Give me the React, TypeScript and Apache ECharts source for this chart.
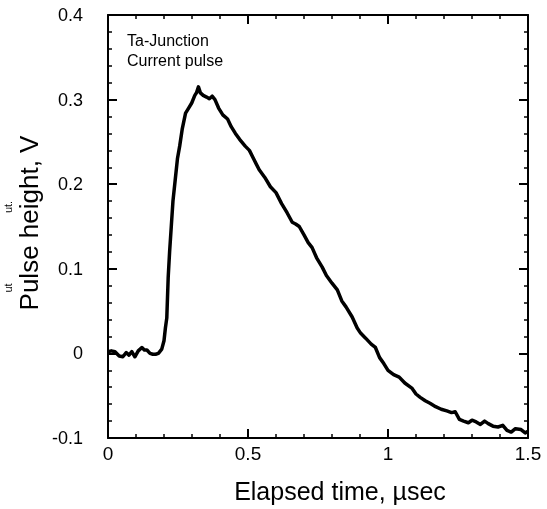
import React, { useEffect, useRef } from "react";
import * as echarts from "echarts";

const timeUs: number[] = [
  0.0, 0.012, 0.025, 0.04, 0.053, 0.065, 0.075, 0.085, 0.096, 0.108, 0.121, 0.13, 0.139, 0.15, 0.16, 0.17, 0.18, 0.192,
  0.2, 0.205, 0.21, 0.215, 0.22, 0.226, 0.232, 0.24, 0.248, 0.256, 0.265, 0.277, 0.288, 0.299, 0.31, 0.316, 0.323,
  0.33, 0.34, 0.352, 0.362, 0.372, 0.382, 0.395, 0.41, 0.427, 0.44, 0.455, 0.47, 0.49, 0.505, 0.52, 0.54, 0.56, 0.58,
  0.6, 0.62, 0.64, 0.658, 0.67, 0.683, 0.7, 0.715, 0.729, 0.745, 0.765, 0.78, 0.8, 0.819, 0.835, 0.85, 0.872, 0.89,
  0.902, 0.92, 0.94, 0.955, 0.97, 0.985, 1.0, 1.02, 1.04, 1.06, 1.085, 1.1, 1.115, 1.133, 1.15, 1.17, 1.19, 1.21,
  1.227, 1.24, 1.255, 1.27, 1.287, 1.3, 1.315, 1.33, 1.345, 1.358, 1.375, 1.393, 1.41, 1.425, 1.44, 1.455, 1.475,
  1.49, 1.5,
];

const pulseV: number[] = [
  0.002, 0.003, 0.002, -0.003, -0.004, 0.001, -0.002, 0.002, -0.004, 0.003, 0.007, 0.004, 0.004, 0.0, -0.001, -0.001,
  0.0, 0.005, 0.015, 0.03, 0.042, 0.09, 0.12, 0.15, 0.18, 0.205, 0.23, 0.245, 0.265, 0.284, 0.29, 0.296, 0.305, 0.308,
  0.315, 0.308, 0.305, 0.303, 0.301, 0.304, 0.3, 0.29, 0.282, 0.277, 0.268, 0.26, 0.253, 0.245, 0.24, 0.23, 0.217,
  0.208, 0.197, 0.19, 0.177, 0.166, 0.155, 0.153, 0.15, 0.14, 0.131, 0.125, 0.113, 0.102, 0.092, 0.083, 0.075, 0.062,
  0.055, 0.043, 0.03, 0.024, 0.018, 0.011, 0.007, -0.005, -0.012, -0.02, -0.025, -0.028, -0.035, -0.041, -0.048,
  -0.052, -0.056, -0.059, -0.063, -0.066, -0.068, -0.07, -0.069, -0.078, -0.08, -0.082, -0.079, -0.081, -0.084, -0.08,
  -0.083, -0.086, -0.087, -0.085, -0.091, -0.093, -0.089, -0.09, -0.094, -0.092,
];

const xTitle = "Elapsed time, \u00b5sec";
const yTitle = "Pulse height, V";
const noteLines = ["Ta-Junction", "Current pulse"];

const FONT = "'Liberation Sans', Arial, Helvetica, sans-serif";

function axisBase(showLabel: boolean, fontSize: number, margin: number) {
  return {
    type: "value",
    axisLine: { show: true, onZero: false, lineStyle: { color: "#000", width: 2 } },
    axisTick: { show: true, inside: true, length: 9, lineStyle: { color: "#000", width: 2 } },
    minorTick: { show: true, splitNumber: 5, length: 4, lineStyle: { color: "#000", width: 1.5 } },
    splitLine: { show: false },
    minorSplitLine: { show: false },
    axisLabel: { show: showLabel, color: "#000", fontSize, fontFamily: FONT, margin },
  };
}

export default function App() {
  const ref = useRef<HTMLDivElement>(null);
  useEffect(() => {
    if (!ref.current) return;
    const chart = echarts.init(ref.current, undefined, { renderer: "svg" });
    chart.setOption({
      animation: false,
      grid: { left: 108, right: 19, top: 15, bottom: 71, containLabel: false },
      xAxis: [
        { ...axisBase(true, 19, 6), position: "bottom", min: 0, max: 1.5, interval: 0.5 },
        { ...axisBase(false, 19, 6), position: "top", min: 0, max: 1.5, interval: 0.5 },
      ],
      yAxis: [
        { ...axisBase(true, 18, 25), position: "left", min: -0.1, max: 0.4, interval: 0.1 },
        { ...axisBase(false, 18, 25), position: "right", min: -0.1, max: 0.4, interval: 0.1 },
      ],
      series: [
        {
          type: "line",
          xAxisIndex: 0,
          yAxisIndex: 0,
          data: timeUs.map((t, i) => [t, pulseV[i]]),
          showSymbol: false,
          symbol: "none",
          lineStyle: { color: "#000", width: 3.5, join: "round" },
        },
      ],
      graphic: [
        { type: "text", x: 127, y: 40, style: { text: noteLines[0], fontSize: 16, fontFamily: FONT, fill: "#000", align: "left", verticalAlign: "middle" } },
        { type: "text", x: 127, y: 60, style: { text: noteLines[1], fontSize: 16, fontFamily: FONT, fill: "#000", align: "left", verticalAlign: "middle" } },
        { type: "text", x: 340, y: 491, style: { text: xTitle, fontSize: 25, fontFamily: FONT, fill: "#000", align: "center", verticalAlign: "middle" } },
        { type: "text", x: 29, y: 223, rotation: Math.PI / 2, style: { text: yTitle, fontSize: 26, fontFamily: FONT, fill: "#000", align: "center", verticalAlign: "middle" } },
        { type: "text", x: 8, y: 207, rotation: Math.PI / 2, style: { text: "ut.", fontSize: 11, fontFamily: FONT, fill: "#000", align: "center", verticalAlign: "middle" } },
        { type: "text", x: 8, y: 288, rotation: Math.PI / 2, style: { text: "ut", fontSize: 11, fontFamily: FONT, fill: "#000", align: "center", verticalAlign: "middle" } },
      ],
    });
    return () => chart.dispose();
  }, []);
  return <div ref={ref} style={{ position: "fixed", left: 0, top: 0, width: 547, height: 509 }} />;
}
